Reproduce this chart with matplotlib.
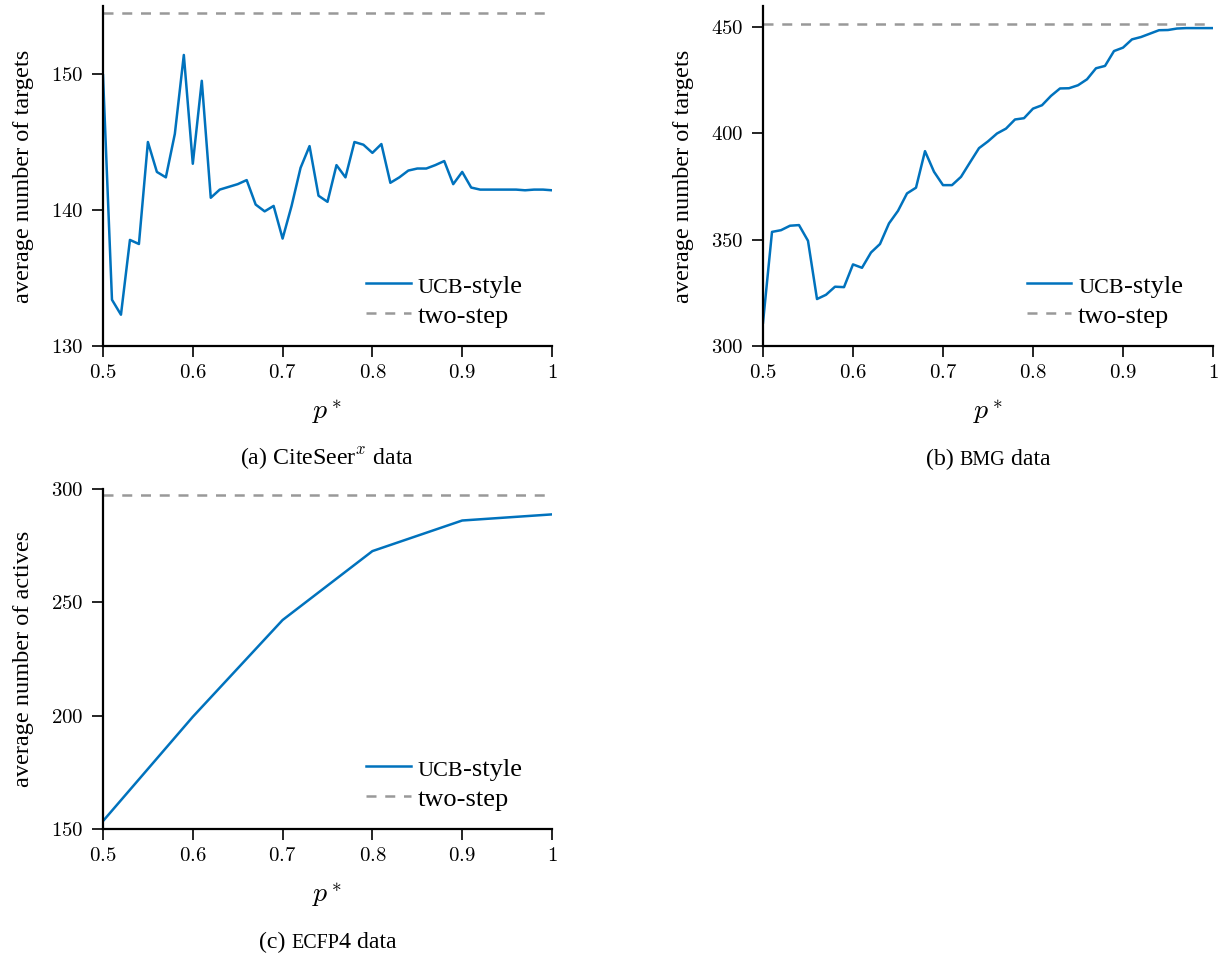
import matplotlib
matplotlib.use("Agg")
import matplotlib.pyplot as plt
from matplotlib.ticker import FuncFormatter

plt.rcParams["font.family"] = ["Liberation Serif", "DejaVu Serif"]
plt.rcParams["mathtext.fontset"] = "cm"

BLUE = "#0072bd"
GREY = "#999999"
SC = 0.84  # scale for fake small caps

# (a) CiteSeer^x
p_cite = [round(0.50 + 0.01 * i, 2) for i in range(51)]
ucb_cite = [
    149.9, 133.4, 132.3, 137.8, 137.5, 145.0, 142.8, 142.4, 145.6, 151.4,
    143.4, 149.5, 140.9, 141.5, 141.7, 141.9, 142.2, 140.4, 139.9, 140.3,
    137.9, 140.3, 143.1, 144.7, 141.05, 140.6, 143.3, 142.4, 145.0, 144.8,
    144.2, 144.85, 142.0, 142.4, 142.9, 143.05, 143.05, 143.3, 143.6, 141.9,
    142.8, 141.65, 141.5, 141.5, 141.5, 141.5, 141.5, 141.45, 141.5, 141.5,
    141.45,
]
twostep_cite = 154.5

# (b) BMG
p_bmg = [round(0.50 + 0.01 * i, 2) for i in range(51)]
ucb_bmg = [
    311.0, 353.7, 354.5, 356.6, 356.9, 349.5, 322.1, 324.1, 327.9, 327.7,
    338.4, 336.8, 344.0, 348.0, 357.7, 363.6, 371.8, 374.5, 391.7, 382.0,
    375.7, 375.7, 379.6, 386.4, 393.1, 396.3, 400.0, 402.3, 406.6, 407.2,
    411.7, 413.3, 417.7, 421.2, 421.3, 422.7, 425.5, 430.7, 431.8, 438.8,
    440.4, 444.3, 445.4, 447.0, 448.6, 448.7, 449.4, 449.6, 449.6, 449.6,
    449.6,
]
twostep_bmg = 451.7

# (c) ECFP4
p_ecfp = [0.5, 0.6, 0.7, 0.8, 0.9, 1.0]
ucb_ecfp = [153.5, 199.5, 242.2, 272.6, 286.1, 288.8]
twostep_ecfp = 297.5

x_ticks = [0.5, 0.6, 0.7, 0.8, 0.9, 1.0]

# text pieces: (string, relative size)
ucb_label = [("UCB", SC), ("-style", 1.0)]
two_label = [("two-step", 1.0)]

panels = [
    # rect, x, y, two-step, ylim, yticks, ylabel, caption
    ([103 / 1220, 1 - 346 / 956, 449 / 1220, 340 / 956], p_cite, ucb_cite,
     twostep_cite, (130, 155), [130, 140, 150],
     "average number of targets",
     [("(a) CiteSeer$^x$ data", 1.0)]),
    ([763 / 1220, 1 - 346 / 956, 450 / 1220, 340 / 956], p_bmg, ucb_bmg,
     twostep_bmg, (300, 460), [300, 350, 400, 450],
     "average number of targets",
     [("(b) ", 1.0), ("BMG", SC), (" data", 1.0)]),
    ([103 / 1220, 1 - 829 / 956, 449 / 1220, 340 / 956], p_ecfp, ucb_ecfp,
     twostep_ecfp, (150, 300), [150, 200, 250, 300],
     "average number of actives",
     [("(c) ", 1.0), ("ECFP", SC), ("4 data", 1.0)]),
]

fmt = FuncFormatter(lambda v, pos: f"${v:g}$")

fig = plt.figure(figsize=(12.2, 9.56), dpi=100)
caption_sets = []

for rect, xs, ys, two, ylim, yticks, ylabel, caption in panels:
    ax = fig.add_axes(rect)
    ax.plot(xs, ys, color=BLUE, linewidth=1.8)
    ax.axhline(two, color=GREY, linewidth=1.8, linestyle=(0, (4, 3.5)))
    ax.set_xlim(0.5, 1.0)
    ax.set_ylim(*ylim)
    ax.set_xticks(x_ticks)
    ax.set_yticks(yticks)
    ax.xaxis.set_major_formatter(fmt)
    ax.yaxis.set_major_formatter(fmt)
    for side in ("top", "right"):
        ax.spines[side].set_visible(False)
    for side in ("left", "bottom"):
        ax.spines[side].set_linewidth(1.6)
    ax.tick_params(direction="out", length=8, width=1.2, labelsize=15,
                   pad=5)
    ax.tick_params(axis="y", pad=6)
    ax.set_xlabel("$p^*$", fontsize=20, labelpad=10)
    ax.set_ylabel(ylabel, fontsize=17.5, labelpad=12.5)

    # hand-made legend (so that "UCB" can be set in small caps)
    for (yy, color, ls, label) in [
        (0.185, BLUE, "-", ucb_label),
        (0.097, GREY, (0, (4, 3.5)), two_label),
    ]:
        ax.plot([0.586, 0.685], [yy, yy], transform=ax.transAxes,
                color=color, linewidth=1.8, linestyle=ls, clip_on=False)
        t = ax.text(0.70, yy - 0.045, label[0][0], transform=ax.transAxes,
                    fontsize=19 * label[0][1], va="bottom", ha="left")
        prev = t
        for s, rel in label[1:]:
            prev = ax.annotate(s, xy=(1, 0), xycoords=prev, va="bottom",
                               ha="left", fontsize=19 * rel)

    # caption under the panel, centred later
    bb = ax.get_position()
    cx = bb.x0 + bb.width / 2
    cy = bb.y0 - 113 / 956
    first = fig.text(cx, cy, caption[0][0], fontsize=17.2 * caption[0][1],
                     va="center", ha="left")
    pieces = [first]
    for s, rel in caption[1:]:
        pieces.append(ax.annotate(s, xy=(1, 0), xycoords=pieces[-1],
                                  va="bottom", ha="left",
                                  fontsize=17.2 * rel,
                                  annotation_clip=False))
    caption_sets.append((cx, cy, pieces))

# centre the multi-piece captions
fig.canvas.draw()
renderer = fig.canvas.get_renderer()
for cx, cy, pieces in caption_sets:
    x0 = min(p.get_window_extent(renderer).x0 for p in pieces)
    x1 = max(p.get_window_extent(renderer).x1 for p in pieces)
    width = (x1 - x0) / fig.bbox.width
    pieces[0].set_position((cx - width / 2, cy))

fig.savefig("out.png", dpi=100)
